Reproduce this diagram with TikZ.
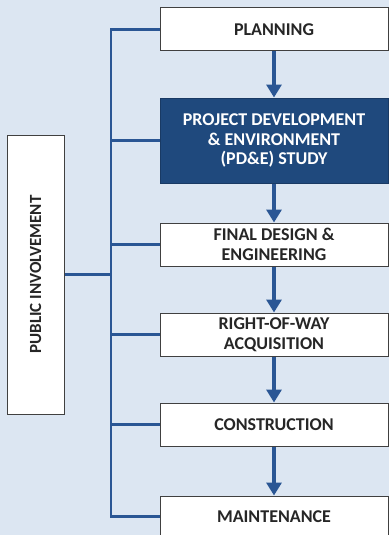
\documentclass[tikz,border=0pt]{standalone}
\usepackage{fontspec}
\setmainfont{Carlito}
\usepackage{graphicx}
\usetikzlibrary{positioning,arrows.meta}
\definecolor{bgblue}{HTML}{DCE6F2}
\definecolor{linkblue}{HTML}{2A5694}
\definecolor{studyblue}{HTML}{1F497D}
\definecolor{boxgrey}{HTML}{404040}
\definecolor{textgrey}{HTML}{262626}

\begin{document}
\begin{tikzpicture}[x=1pt, y=-1pt,
				stage/.style={rectangle, draw=boxgrey, line width=1pt, fill=white, text=textgrey, minimum width=228pt, minimum height=43pt, inner sep=0pt, align=center, font=\fontsize{18}{19.5}\selectfont\bfseries},
				study/.style={stage, fill=studyblue, draw=studyblue!80!black, text=white, minimum height=85pt},
				side/.style={rectangle, draw=boxgrey, line width=1pt, fill=white, text=textgrey, minimum width=57pt, minimum height=279pt, inner sep=0pt, font=\fontsize{17}{19}\selectfont\bfseries}
			]
			\fill[bgblue] (0,0) rectangle (389,535);
			\useasboundingbox (0,0) rectangle (389,535);
			\node[stage] (planning) at (274,29.5) {PLANNING};
			\node[study] (pde) [below=46pt of planning] {PROJECT DEVELOPMENT\\\& ENVIRONMENT\\(PD\&E) STUDY};
			\node[stage] (design) [below=39pt of pde] {FINAL DESIGN \&\\ENGINEERING};
			\node[stage] (row) [below=46pt of design] {RIGHT-OF-WAY\\ACQUISITION};
			\node[stage] (construction) [below=46pt of row] {CONSTRUCTION};
			\node[stage] (maintenance) [below=49pt of construction, minimum height=41pt] {MAINTENANCE};
			\node[side] (public) at (35.5,274.5) {\rotatebox{90}{PUBLIC INVOLVEMENT}};
			\coordinate (bus) at (111,0);
			\begin{scope}[draw=linkblue, line width=2.5pt]
			\draw (planning.west) -| (bus |- maintenance.west) -- (maintenance.west);
			\foreach \stagename in {pde, design, row, construction}
				\draw (\stagename.west) -- (\stagename.west -| bus);
			\draw (public.east) -- (public.east -| bus);
			\end{scope}
			\begin{scope}[draw=linkblue, line width=4pt, -{Triangle[width=15pt, length=13pt]}]
			\draw (planning.south) -- (pde.north);
			\draw (pde.south) -- (design.north);
			\draw (design.south) -- (row.north);
			\draw (row.south) -- (construction.north);
			\draw (construction.south) -- (maintenance.north);
			\end{scope}
			\end{tikzpicture}
\end{document}
